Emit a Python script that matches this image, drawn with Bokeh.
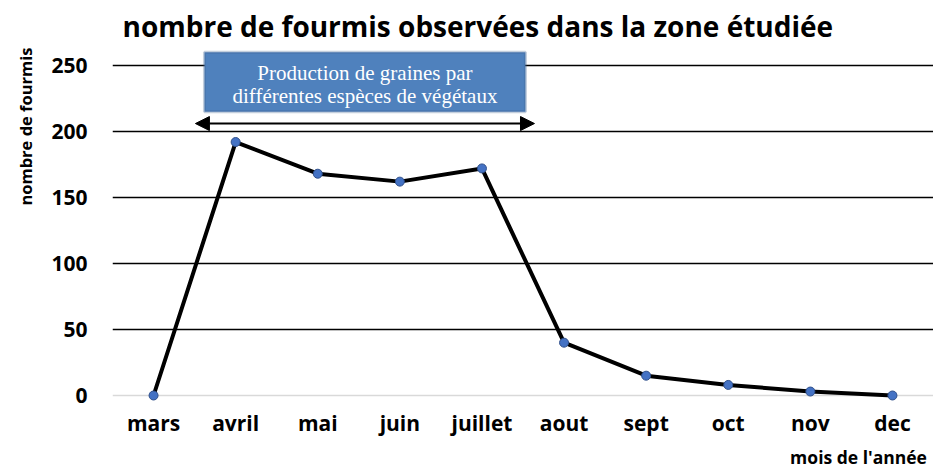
from bokeh.plotting import figure
from bokeh.models import (FactorRange, Range1d, FixedTicker, Grid, Label, BoxAnnotation,
                          Arrow, NormalHead, ColumnDataSource, Title)
from bokeh.embed import file_html
from bokeh.resources import INLINE

months = ["mars", "avril", "mai", "juin", "juillet", "aout", "sept", "oct", "nov", "dec"]
ants = [0, 192, 168, 162, 172, 40, 15, 8, 3, 0]
y_ticks = [0, 50, 100, 150, 200, 250]

title_text = "nombre de fourmis observées dans la zone étudiée"
y_label = "nombre de fourmis"
x_label = "mois de l'année"
box_lines = ["Production de graines par", "différentes espèces de végétaux"]

FONT = "Open Sans"

p = figure(width=933, height=469, x_range=FactorRange(*months), y_range=Range1d(-56.06, 299.2),
           output_backend="svg", toolbar_location=None, title=None,
           min_border_left=112, min_border_right=0, min_border_top=0, min_border_bottom=0)
p.outline_line_color = None
p.background_fill_color = "white"
p.border_fill_color = "white"

# grids
p.xgrid.grid_line_color = None
p.ygrid.ticker = FixedTicker(ticks=y_ticks[1:])
p.ygrid.grid_line_color = "black"
p.ygrid.grid_line_width = 1.5
g0 = Grid(dimension=1, ticker=FixedTicker(ticks=[0]), grid_line_color="#d9d9d9", grid_line_width=1.5)
p.add_layout(g0)

# axes
p.yaxis.ticker = FixedTicker(ticks=y_ticks)
for ax in (p.xaxis[0], p.yaxis[0]):
    ax.axis_line_color = None
    ax.major_tick_line_color = None
    ax.minor_tick_line_color = None
    ax.major_tick_out = 0
    ax.major_tick_in = 0
    ax.major_label_text_font = FONT
    ax.major_label_text_font_style = "bold"
    ax.major_label_text_color = "black"
p.yaxis.major_label_text_font_size = "21px"
p.yaxis.major_label_standoff = 25
p.xaxis.fixed_location = 0
p.xaxis.major_label_text_font_size = "21px"
p.xaxis.major_label_standoff = 14

# y label as a side title
p.add_layout(Title(text=y_label, align="right", offset=47, standoff=20, vertical_align="top",
                   text_font=FONT, text_font_style="bold", text_font_size="16.5px",
                   text_color="black"), "left")

src = ColumnDataSource(dict(m=months, n=ants))
p.line("m", "n", source=src, line_color="black", line_width=4)
p.scatter("m", "n", source=src, size=9, fill_color="#4472C4", line_color="#2F4F8A", line_width=1)

# annotation box and arrow
box = BoxAnnotation(left=1.12, right=5.03, bottom=215, top=260,
                    fill_color="#4F81BD", fill_alpha=1.0, line_color="#3A6090", line_width=3)
p.add_layout(box)
p.add_layout(Label(x=3.075, y=244.5, text=box_lines[0], text_align="center", text_baseline="middle",
                   text_font="Liberation Serif", text_font_size="21px", text_color="white"))
p.add_layout(Label(x=3.075, y=227, text=box_lines[1], text_align="center", text_baseline="middle",
                   text_font="Liberation Serif", text_font_size="21px", text_color="white"))
p.add_layout(Arrow(x_start=1.01, x_end=5.14, y_start=206, y_end=206, line_width=2, line_color="black",
                   start=NormalHead(size=14, fill_color="black", line_color="black"),
                   end=NormalHead(size=14, fill_color="black", line_color="black")))

# title and x label placed inside the plotting frame
p.add_layout(Label(x=0.122, y=279.8, text=title_text, text_align="left", text_baseline="middle",
                   text_font=FONT, text_font_style="bold", text_font_size="28px", text_color="black"))
p.add_layout(Label(x=9.92, y=-46.5, text=x_label, text_align="right", text_baseline="middle",
                   text_font=FONT, text_font_style="bold", text_font_size="17.5px", text_color="black"))

open("out.html", "w").write(file_html(p, INLINE))
